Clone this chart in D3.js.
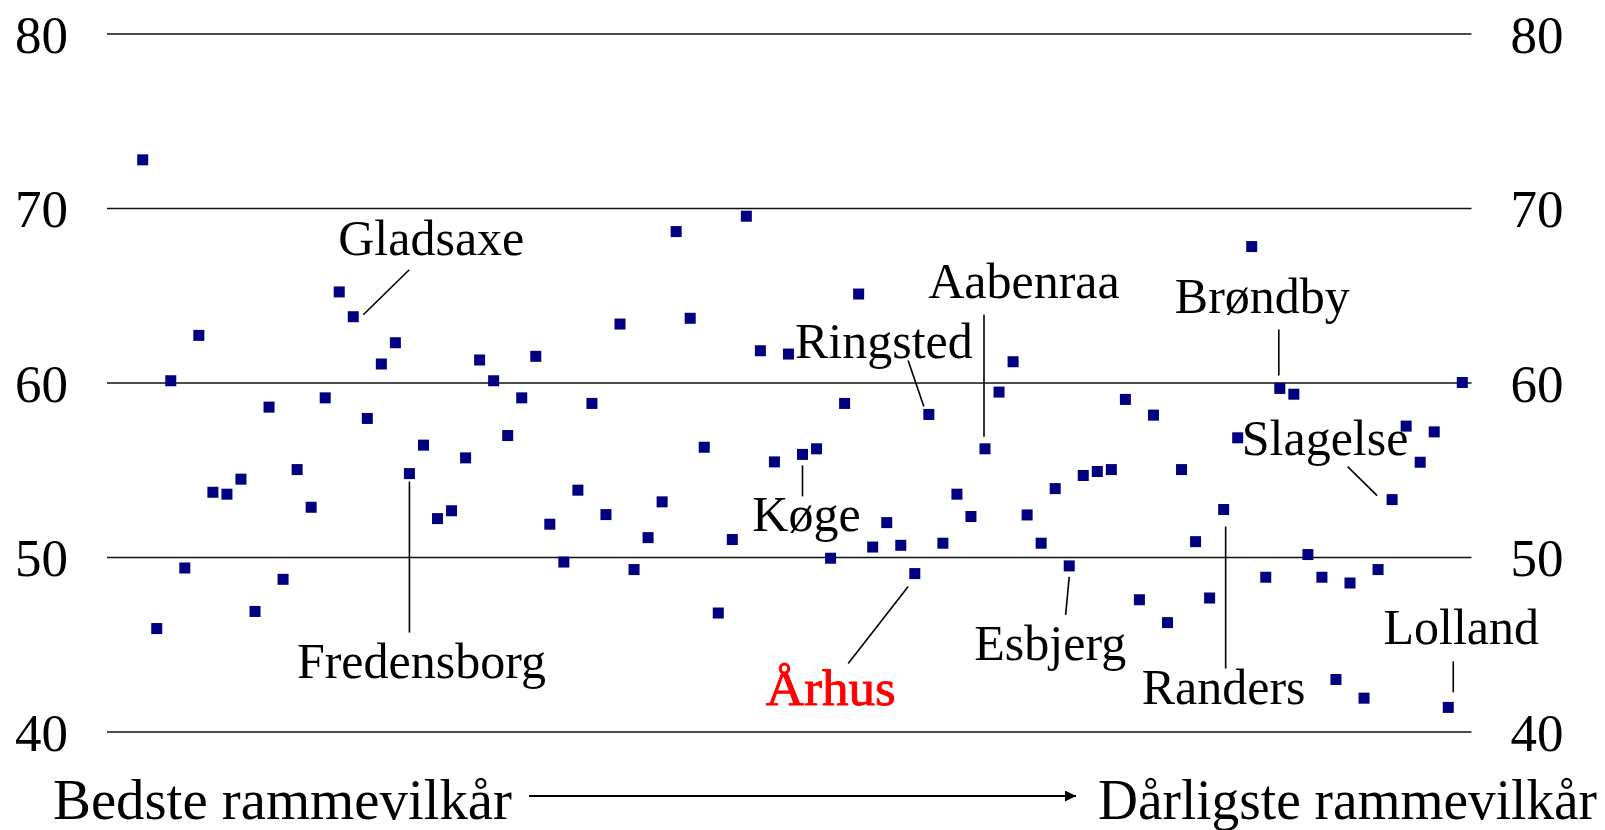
<!DOCTYPE html>
<html>
<head>
<meta charset="utf-8">
<script src="https://cdn.jsdelivr.net/npm/d3@7"></script>
<style>
  html, body { margin: 0; padding: 0; background: #fff; }
  svg { display: block; }
  text { font-family: "Liberation Serif", "Times New Roman", serif; }
</style>
</head>
<body>
<svg id="chart" width="1605" height="830"></svg>
<script>
// ---- Data ----
// Municipalities ranked from best (1) to worst (95) framework conditions
const ranks = d3.range(1, 96);
const values = [
  72.76, 45.9, 60.1, 49.37, 62.7, 53.71, 53.6, 54.46, 46.88, 58.59,
  48.72, 55.01, 52.85, 59.12, 65.19, 63.77, 57.94, 61.06, 62.28, 54.78,
  56.41, 52.2, 52.65, 55.68, 61.29, 60.1, 56.96, 59.12, 61.5, 51.88,
  49.71, 53.83, 58.8, 52.43, 63.35, 49.28, 51.11, 53.16, 68.65, 63.68,
  56.29, 46.79, 51.0, 69.53, 61.82, 55.45, 61.63, 55.88, 56.2, 49.93,
  58.8, 65.07, 50.57, 51.97, 50.67, 49.05, 58.17, 50.79, 53.6, 52.32,
  56.2, 59.45, 61.19, 52.41, 50.79, 53.92, 49.49, 54.67, 54.9, 55.01,
  59.03, 47.55, 58.13, 46.24, 55.01, 50.88, 47.65, 52.72, 56.83, 67.79,
  48.84, 59.66, 59.33, 50.14, 48.84, 42.98, 48.51, 41.91, 49.28, 53.29,
  57.5, 55.43, 57.17, 41.38, 60.0
];
const yTicks = [40, 50, 60, 70, 80];
const labelNames = ["Gladsaxe", "Fredensborg", "Køge", "Århus", "Ringsted", "Aabenraa",
                    "Esbjerg", "Randers", "Brøndby", "Slagelse", "Lolland"];
const labelRanks = [16, 20, 48, 56, 57, 61, 67, 78, 82, 90, 94];
const axisLeftText = "Bedste rammevilkår";
const axisRightText = "Dårligste rammevilkår";

// ---- Layout (annotation placement relative to its point, in px) ----
const annLayout = {
  "Gladsaxe":    { line: [10, -2, 56, -47],   text: [78, -62] },
  "Fredensborg": { line: [0, 8, 0, 159],      text: [12, 204] },
  "Køge":        { line: [0, 11, 0, 42],      text: [4, 77] },
  "Århus":       { line: [-6.6, 13, -66.6, 90], text: [-84, 131], color: "#ff0000", stroke: 0.9, len: 130 },
  "Ringsted":    { line: [-5, -8, -20.7, -54], text: [-45, -56] },
  "Aabenraa":    { line: [-1, -12, -1, -134], text: [39, -150.5] },
  "Esbjerg":     { line: [0, 11, -3.6, 49],   text: [-19, 94] },
  "Randers":     { line: [2, 17, 2, 159],     text: [0, 194] },
  "Brøndby":     { line: [-1, -13, -1, -59],  text: [-17.5, -75] },
  "Slagelse":    { line: [-15, -4, -44.5, -33], text: [-67, -44.6] },
  "Lolland":     { line: [5, -15, 5, -46],    text: [13, -63] }
};

const svg = d3.select("#chart");
const gridLeft = 107, gridRight = 1471.5;

const x = d3.scaleLinear().domain([1, 95]).range([142.7, 1462.3]);
const y = d3.scaleLinear().domain([40, 80]).range([731.5, 33.5]);

// Gridlines + right labels
const rightAxis = svg.append("g")
  .attr("transform", `translate(${gridRight},0)`)
  .call(d3.axisRight(y).tickValues(yTicks).tickSize(-(gridRight - gridLeft)).tickPadding(39));
const leftAxis = svg.append("g")
  .attr("transform", `translate(${gridLeft},0)`)
  .call(d3.axisLeft(y).tickValues(yTicks).tickSize(0).tickPadding(39));
[rightAxis, leftAxis].forEach(g => {
  g.select(".domain").remove();
  g.selectAll(".tick line").attr("stroke", "#111").attr("stroke-width", 1.6);
  g.selectAll(".tick text")
    .attr("font-family", "Liberation Serif, serif")
    .attr("font-size", 53)
    .attr("fill", "#000")
    .attr("dy", "0.35em");
});

// Points
const pts = ranks.map((r, i) => ({ r, v: values[i] }));
const sz = 11;
svg.append("g").selectAll("rect")
  .data(pts)
  .join("rect")
  .attr("x", d => x(d.r) - sz / 2)
  .attr("y", d => y(d.v) - sz / 2)
  .attr("width", sz)
  .attr("height", sz)
  .attr("fill", "#000080");

// Annotations
const ann = svg.append("g");
labelNames.forEach((name, i) => {
  const r = labelRanks[i];
  const px = x(r), py = y(values[r - 1]);
  const L = annLayout[name];
  ann.append("line")
    .attr("x1", px + L.line[0]).attr("y1", py + L.line[1])
    .attr("x2", px + L.line[2]).attr("y2", py + L.line[3])
    .attr("stroke", "#000").attr("stroke-width", 1.6);
  const t = ann.append("text")
    .attr("x", px + L.text[0]).attr("y", py + L.text[1])
    .attr("text-anchor", "middle")
    .attr("font-size", 50)
    .attr("fill", L.color || "#000")
    .text(name);
  if (L.stroke) t.attr("stroke", L.color).attr("stroke-width", L.stroke);
  if (L.len) t.attr("textLength", L.len).attr("lengthAdjust", "spacingAndGlyphs");
});

// Bottom axis caption with arrow
const defs = svg.append("defs");
defs.append("marker")
  .attr("id", "arrow")
  .attr("viewBox", "0 0 10 10")
  .attr("refX", 10).attr("refY", 5)
  .attr("markerWidth", 5.5).attr("markerHeight", 5.5)
  .attr("markerUnits", "strokeWidth")
  .attr("orient", "auto")
  .append("path").attr("d", "M0,0 L10,5 L0,10 z").attr("fill", "#000");

svg.append("text")
  .attr("x", 53).attr("y", 819)
  .attr("font-size", 56)
  .attr("fill", "#000")
  .attr("textLength", 459)
  .attr("lengthAdjust", "spacingAndGlyphs")
  .text(axisLeftText);
svg.append("line")
  .attr("x1", 529).attr("y1", 796)
  .attr("x2", 1076).attr("y2", 796)
  .attr("stroke", "#000").attr("stroke-width", 2)
  .attr("marker-end", "url(#arrow)");
svg.append("text")
  .attr("x", 1098).attr("y", 819)
  .attr("font-size", 56)
  .attr("fill", "#000")
  .attr("textLength", 499)
  .attr("lengthAdjust", "spacingAndGlyphs")
  .text(axisRightText);
</script>
</body>
</html>
